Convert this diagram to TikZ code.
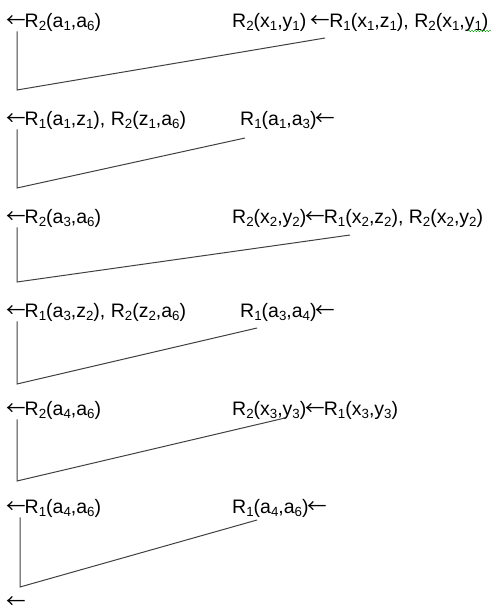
\documentclass[tikz,border=0pt]{standalone}
\usepackage{fontspec}
\setmainfont{Liberation Sans}
\newfontfamily\arrfont{Noto Sans CJK SC}
\usetikzlibrary{decorations.pathmorphing}
\newcommand{\sub}[1]{\raisebox{-0.2em}{\fontsize{13.3}{13.3}\selectfont #1}}
\newcommand{\la}{{\arrfont\kern-1pt←\kern-1pt}}
\tikzset{
  rel/.style={anchor=west, inner sep=0pt, font=\fontsize{19.5}{22}\selectfont},
  link/.style={black!75, line width=1pt}
}

\begin{document}
\begin{tikzpicture}[x=1pt, y=-1pt]
\useasboundingbox (0,0) rectangle (497,610);
% row 1
\node[rel] (l1) at (7,22) {\la R\sub{2}(a\sub{1},a\sub{6})};
\node[rel] (r1) at (232,22) {R\sub{2}(x\sub{1},y\sub{1}) \la R\sub{1}(x\sub{1},z\sub{1}), R\sub{2}(x\sub{1},y\sub{1})};
\coordinate (e1) at (325,38); \coordinate (c1) at (17,90);
\draw[link] (e1) -- (c1) -- (c1 |- l1.south);
\draw[green!60!black, decorate, decoration={snake, amplitude=0.8pt, segment length=3pt}] (468,31) -- (491,31);
% row 2
\node[rel] (l2) at (7,120) {\la R\sub{1}(a\sub{1},z\sub{1}), R\sub{2}(z\sub{1},a\sub{6})};
\node[rel] (r2) at (240,120) {R\sub{1}(a\sub{1},a\sub{3})\la};
\coordinate (e2) at (245,138); \coordinate (c2) at (17,188);
\draw[link] (e2) -- (c2) -- (c2 |- l2.south);
% row 3
\node[rel] (l3) at (7,218) {\la R\sub{2}(a\sub{3},a\sub{6})};
\node[rel] (r3) at (232,218) {R\sub{2}(x\sub{2},y\sub{2})\la R\sub{1}(x\sub{2},z\sub{2}), R\sub{2}(x\sub{2},y\sub{2})};
\coordinate (e3) at (350,235); \coordinate (c3) at (17,282);
\draw[link] (e3) -- (c3) -- (c3 |- l3.south);
% row 4
\node[rel] (l4) at (7,312) {\la R\sub{1}(a\sub{3},z\sub{2}), R\sub{2}(z\sub{2},a\sub{6})};
\node[rel] (r4) at (240,312) {R\sub{1}(a\sub{3},a\sub{4})\la};
\coordinate (e4) at (257,328); \coordinate (c4) at (17,384);
\draw[link] (e4) -- (c4) -- (c4 |- l4.south);
% row 5
\node[rel] (l5) at (7,410) {\la R\sub{2}(a\sub{4},a\sub{6})};
\node[rel] (r5) at (232,410) {R\sub{2}(x\sub{3},y\sub{3})\la R\sub{1}(x\sub{3},y\sub{3})};
\coordinate (e5) at (285,418); \coordinate (c5) at (17,481);
\draw[link] (e5) -- (c5) -- (c5 |- l5.south);
% row 6
\node[rel] (l6) at (7,508) {\la R\sub{1}(a\sub{4},a\sub{6})};
\node[rel] (r6) at (232,508) {R\sub{1}(a\sub{4},a\sub{6})\la};
\coordinate (e6) at (257,520); \coordinate (c6) at (20,587);
\draw[link] (e6) -- (c6) -- (c6 |- l6.south);
\node[rel] (end) at (7,603) {\la};
\end{tikzpicture}
\end{document}
